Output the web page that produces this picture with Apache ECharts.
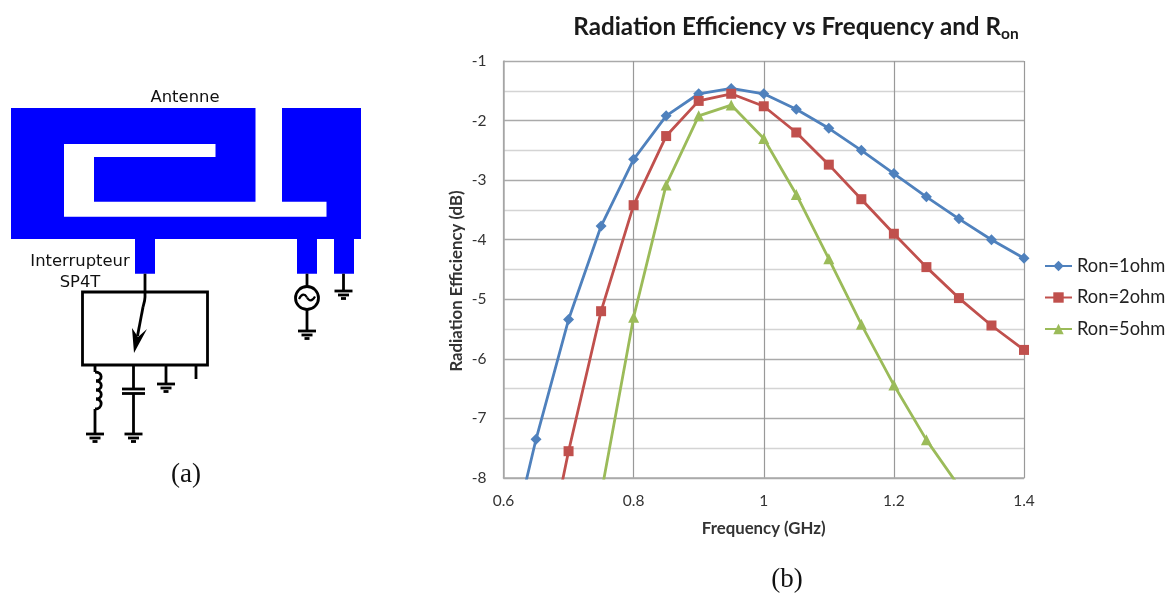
<!DOCTYPE html>
<html><head><meta charset="utf-8">
<style>html,body{margin:0;padding:0;background:#fff}#c{width:1166px;height:594px}</style>
<script src="https://cdn.jsdelivr.net/npm/echarts@6/dist/echarts.min.js"></script>
</head><body><div id="c"></div>
<script>
const frequencies = [0.6,0.65,0.7,0.75,0.8,0.85,0.9,0.95,1.0,1.05,1.1,1.15,1.2,1.25,1.3,1.35,1.4];
const ron1 = [-9.65,-7.35,-5.34,-3.77,-2.65,-1.92,-1.55,-1.46,-1.55,-1.81,-2.13,-2.5,-2.89,-3.28,-3.65,-4.0,-4.31];
const ron2 = [-13.0,-10.2,-7.55,-5.2,-3.42,-2.26,-1.67,-1.55,-1.76,-2.2,-2.74,-3.32,-3.9,-4.46,-4.98,-5.44,-5.85];
const ron5 = [-15.0,-13.0,-10.9,-8.27,-5.3,-3.08,-1.92,-1.74,-2.3,-3.24,-4.32,-5.42,-6.44,-7.36,-8.14,-8.9,-9.6];
const seriesNames = ['Ron=1ohm','Ron=2ohm','Ron=5ohm'];
const xTickLabels = {0.6:'0.6',0.8:'0.8',1:'1',1.2:'1.2',1.4:'1.4'};
const chartTitle = 'Radiation Efficiency vs Frequency and R';
const uiFont = 'Lato';

const pairs = ys => frequencies.map((f,i)=>[f,ys[i]]);
const S = {stroke:'#000',lineWidth:2.8,fill:null};
const line = pts => ({type:'polyline',shape:{points:pts},style:S,silent:true});
const curve = (x1,y1,cx1,cy1,cx2,cy2,x2,y2,lw) => ({type:'bezierCurve',shape:{x1,y1,cpx1:cx1,cpy1:cy1,cpx2:cx2,cpy2:cy2,x2,y2},style:{...S,lineWidth:lw||2.8},silent:true});
const gnd = (x,y) => [
  line([[x-9,y],[x+9,y]]),
  line([[x-5.5,y+4],[x+5.5,y+4]]),
  line([[x-2.5,y+7.5],[x+2.5,y+7.5]])
];
const label = (x,y,text,font,size) => ({type:'text',x,y,style:{text,fontFamily:font,fontSize:size,fill:'#111',align:'center',verticalAlign:'middle'}});
const poly = (pts,fill) => ({type:'polygon',shape:{points:pts},style:{fill}});

const schematic = [
  poly([[11,108],[255.5,108],[255.5,205],[282,205],[282,108],[361,108],[361,239],[354,239],[354,273.7],[334,273.7],[334,239],[317,239],[317,273.7],[297,273.7],[297,239],[155,239],[155,273.7],[135,273.7],[135,239],[11,239]],'#0000ff'),
  poly([[64,144],[215.5,144],[215.5,157],[94,157],[94,201.7],[326.5,201.7],[326.5,216.7],[64,216.7]],'#ffffff'),
  {type:'rect',shape:{x:82.5,y:292,width:125,height:73},style:S},
  line([[145,273.7],[145,297]]),
  curve(145,297,145,301,143.5,305,143,307),
  line([[143,307],[137.5,336]]),
  poly([[134,353],[132,328],[138,337],[147,329]],'#000'),
  line([[95,365],[95,372]]),
  curve(95,372,103,372,103,381,96,381),
  curve(96,381,103,381,103,390,96,390),
  curve(96,390,103,390,103,399,96,399),
  curve(96,399,103,399,103,409,95,409),
  line([[95,409],[95,434]]),
  line([[133.5,365],[133.5,389]]), line([[122,389],[145,389]]), line([[122,393.5],[145,393.5]]), line([[133.5,393.5],[133.5,434]]),
  line([[166,365],[166,384]]), line([[196,365],[196,379]]),
  line([[307,273.7],[307,286]]), {type:'circle',shape:{cx:307,cy:298,r:11.5},style:S}, line([[307,310],[307,331]]),
  curve(299,299,302,293,305,294,307,297.5,2.2),
  curve(307,297.5,309,301,312,302,315,296.5,2.2),
  line([[343.5,273.7],[343.5,291]]),
  ...gnd(95,434), ...gnd(133.5,434), ...gnd(166,384), ...gnd(307,331), ...gnd(343.5,291),
  label(185,98,'Antenne','DejaVu Sans',16.4),
  label(80,262,'Interrupteur','DejaVu Sans',16.4),
  label(80,283,'SP4T','DejaVu Sans',16.4),
  label(186,475,'(a)','Liberation Serif',27),
  label(787,580,'(b)','Liberation Serif',27)
];

const colors = ['#4F81BD','#C0504D','#9BBB59'];
const symbols = ['diamond','rect','triangle'];
const sizes = [11,10,11];
const chart = echarts.init(document.getElementById('c'),null,{renderer:'canvas'});
chart.setOption({
  animation:false,
  backgroundColor:'#fff',
  title:{
    text:'{a|'+chartTitle+'}{b|on}',left:791,top:7,textAlign:'center',
    textStyle:{rich:{a:{fontFamily:uiFont,fontWeight:'bold',fontSize:24.2,color:'#1a1a1a'},
                     b:{fontFamily:uiFont,fontWeight:'bold',fontSize:15.5,color:'#1a1a1a',verticalAlign:'bottom',padding:[14,0,0,0]}}}
  },
  legend:{
    orient:'vertical',left:1039,top:252,itemGap:13.5,itemWidth:27,itemHeight:13,
    textStyle:{fontFamily:uiFont,fontSize:18.3,color:'#222'},
    data:seriesNames
  },
  grid:{left:503.5,right:142,top:61,bottom:116},
  xAxis:{
    type:'value',min:0.6,max:1.4,interval:0.2,
    name:'Frequency (GHz)',nameLocation:'middle',nameGap:42,
    nameTextStyle:{fontFamily:uiFont,fontWeight:'bold',fontSize:16.8,color:'#333'},
    axisLine:{show:true,lineStyle:{color:'#aaa',width:1.5}},axisTick:{show:false},
    axisLabel:{fontFamily:uiFont,fontSize:15.5,color:'#333',margin:15,formatter:v=>xTickLabels[Math.round(v*10)/10]},
    splitLine:{show:true,lineStyle:{color:'#999',width:1.2}}
  },
  yAxis:{
    type:'value',min:-8,max:-1,interval:1,
    name:'Radiation Efficiency (dB)',nameLocation:'middle',nameGap:38,nameRotate:90,
    nameTextStyle:{fontFamily:uiFont,fontWeight:'bold',fontSize:16.8,color:'#333',padding:[0,23,0,0]},
    axisLine:{show:true,lineStyle:{color:'#aaa',width:1.5}},axisTick:{show:false},
    axisLabel:{fontFamily:uiFont,fontSize:15.5,color:'#333',margin:17},
    splitLine:{show:true,lineStyle:{color:'#aaa',width:1.3}},
    minorTick:{show:false,splitNumber:2},
    minorSplitLine:{show:true,lineStyle:{color:'#d4d4d4',width:1.3}}
  },
  series:[ron1,ron2,ron5].map((ys,i)=>({
    name:seriesNames[i],type:'line',data:pairs(ys),clip:true,
    showSymbol:true,showAllSymbol:true,symbol:symbols[i],symbolSize:sizes[i],
    lineStyle:{color:colors[i],width:2.8},itemStyle:{color:colors[i]}
  })),
  graphic:schematic
});
</script></body></html>
